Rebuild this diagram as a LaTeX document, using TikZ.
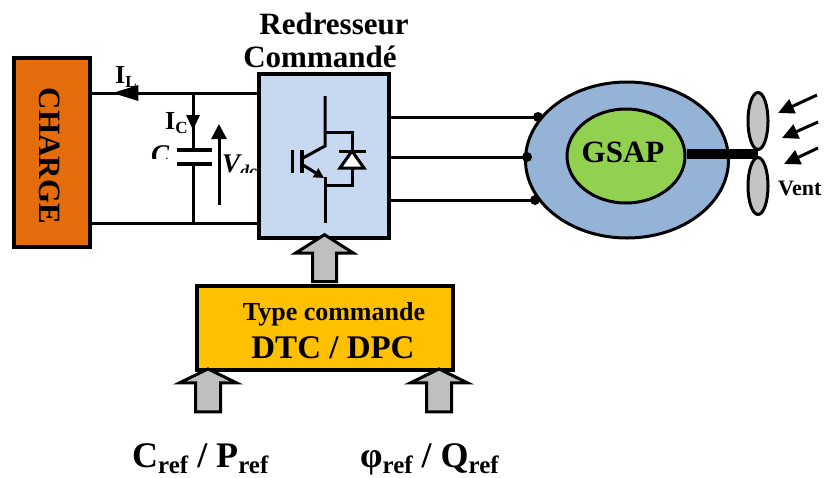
\documentclass[tikz,border=0pt]{standalone}
\usepackage{fontspec}
\setmainfont{Liberation Serif}
\usetikzlibrary{arrows.meta,shapes.geometric,shapes.arrows,decorations.markings,calc}

\definecolor{chargeorange}{HTML}{E46C0A}
\definecolor{convblue}{HTML}{C6D9F1}
\definecolor{statorblue}{HTML}{95B3D7}
\definecolor{rotorgreen}{HTML}{92D050}
\definecolor{ctrlgold}{HTML}{FFC000}
\definecolor{fatgray}{HTML}{BFBFBF}
\definecolor{bladegray}{HTML}{C4C4C4}

% subscript set in a smaller size and lowered
\newcommand{\rsub}[3]{\raisebox{-#1}{\fontsize{#2}{#2}\selectfont\bfseries #3}}

\begin{document}
\begin{tikzpicture}[x=1pt,y=-1pt,
  wire/.style={line width=3pt},
  blk/.style={draw, line width=3.5pt, inner sep=0pt, rectangle},
  bold/.style={font=\fontsize{#1}{#1}\selectfont\bfseries, inner sep=0pt},
  boldit/.style={font=\fontsize{#1}{#1}\selectfont\bfseries\itshape, inner sep=0pt},
  fatarrow/.style={single arrow, draw, line width=3pt, fill=fatgray,
    inner xsep=0pt, inner ysep=#1, rotate=90},
  dot/.style={circle, fill, inner sep=0pt, minimum size=10pt},
  blade/.style={ellipse, draw, line width=3pt, fill=bladegray,
    minimum width=20pt, minimum height=57pt, inner sep=0pt},
  windtip/.style={-{Triangle[length=16pt,width=15pt]}, line width=3pt},
]
\useasboundingbox (0,0) rectangle (827,477);

% ---------- titles ----------
\node[bold=31, anchor=base] (t1) at (334,34) {Redresseur};
\node[bold=31, anchor=base] (t2) at (320,67) {Commandé};

% ---------- load ----------
\node[blk, fill=chargeorange, minimum width=76pt, minimum height=189pt] (charge) at (52,152.5) {};
\node[bold=31, rotate=-90] (chargelbl) at (50,156) {CHARGE};

% ---------- controlled rectifier ----------
\node[blk, fill=convblue, minimum width=130pt, minimum height=164pt] (rect) at (324,156) {};

% IGBT with antiparallel diode
\begin{scope}[line width=3pt]
  \draw (325,96) -- (325,146) -- (303,158);
  \draw[line width=4pt] (302,150) -- (302,173);
  \draw (292,150) -- (292,173);
  \draw[-{Triangle[length=10pt,width=10pt]}] (303,165) -- (324,178);
  \draw (325,177) -- (325,223);
  \draw (325,132) -- (352,132) -- (352,185) -- (325,185);
  \draw[fill=white, line join=miter] (352,151) -- (364,168) -- (340,168) -- cycle;
  \draw (339,151) -- (366,151);
\end{scope}

% ---------- DC bus ----------
\coordinate (ltop) at (rect.west |- 0,93);
\coordinate (lbot) at (rect.west |- 0,223);
\draw[wire, postaction={decorate, decoration={markings,
      mark=at position 145pt with {\arrow{Triangle[length=26pt,width=15pt]}}}}]
  (ltop) -- (ltop -| charge.east);
\draw[wire] (lbot) -- (lbot -| charge.east);
\node[bold=26, anchor=base west] (il) at (115,83) {I\rsub{4pt}{17}{L}};

% capacitor
\coordinate (ctop) at (193,93);
\coordinate (cbot) at (193,223);
\coordinate (plateA) at (193,150);
\coordinate (plateB) at (193,164);
\draw[wire, postaction={decorate, decoration={markings,
      mark=at position 37pt with {\arrow{Triangle[length=15pt,width=13pt]}}}}]
  (ctop) -- (plateA);
\draw[wire] (plateB) -- (cbot);
\draw[line width=4pt] ($(plateA)+(-16,0)$) -- ($(plateA)+(19,0)$);
\draw[line width=4pt] ($(plateB)+(-16,0)$) -- ($(plateB)+(19,0)$);
\node[bold=26, anchor=base west] (ic) at (165,129) {I\rsub{4pt}{17}{C}};
\begin{scope}
  \clip (140,135) rectangle (175,158);
  \node[boldit=27, anchor=base west] (clbl) at (151,163) {C};
\end{scope}
\coordinate (vdcA) at (219,205);
\coordinate (vdcB) at (219,124);
\draw[wire, -{Triangle[length=15pt,width=15pt]}] (vdcA) -- (vdcB);
\begin{scope}
  \clip (215,140) rectangle (257,172);
  \node[boldit=27, anchor=base west] (vdc) at (222,172) {V\rsub{5pt}{18}{dc}};
\end{scope}

% ---------- generator ----------
\node[ellipse, draw, line width=3pt, fill=statorblue, minimum width=203pt, minimum height=156pt, inner sep=0pt] (gen) at (627,160) {};
\node[ellipse, draw, line width=3pt, fill=rotorgreen, minimum width=118pt, minimum height=94pt, inner sep=0pt] (rotor) at (626,156) {};
\node[bold=31] (gsap) at (623,152) {GSAP};

% three-phase lines, ending on dots at the stator
\coordinate (pa) at (538,117);
\coordinate (pb) at (527,157);
\coordinate (pc) at (535,200);
\draw[wire] (rect.east |- pa) -- (pa);
\draw[wire] (rect.east |- pb) -- (pb);
\draw[wire] (rect.east |- pc) -- (pc);
\node[dot] (da) at (pa) {};
\node[dot] (db) at (pb) {};
\node[dot] (dc) at (pc) {};

% turbine
\coordinate (hub) at (758,154);
\draw[line width=10pt] (rotor.east |- hub) -- (hub);
\node[blade] (bladeup) at (758,121) {};
\node[blade] (bladedn) at (758,186) {};
\draw[windtip] (817,95) -- (778,113);
\draw[windtip] (818,122) -- (782,138);
\draw[windtip] (818,148) -- (784,164);
\node[bold=22, anchor=base west] (vent) at (778,195) {Vent};

% ---------- control block ----------
\node[blk, fill=ctrlgold, minimum width=256pt, minimum height=84pt] (ctrl) at (325,328) {};
\node[bold=26] (ctrl1) at (334,314) {Type commande};
\node[bold=33] (ctrl2) at (333,348) {DTC / DPC};

\node[fatarrow=10.5pt, minimum height=47pt, single arrow head extend=17pt,
      single arrow tip angle=115] (upcmd) at ($(ctrl.north)!0.5!(rect.south)$) {};
\node[fatarrow=11pt, minimum height=43pt, single arrow head extend=16pt,
      single arrow tip angle=128] (upcref) at (208,393.5) {};
\node[fatarrow=11pt, minimum height=43pt, single arrow head extend=16pt,
      single arrow tip angle=128] (upphi) at (439,393.5) {};

% references
\node[bold=36, anchor=base west] (cref) at (132,467) {C\rsub{6pt}{25}{ref} / P\rsub{6pt}{25}{ref}};
\node[bold=36, anchor=base west] (phiref) at (360,467) {φ\rsub{6pt}{25}{ref} / Q\rsub{6pt}{25}{ref}};
\end{tikzpicture}
\end{document}
